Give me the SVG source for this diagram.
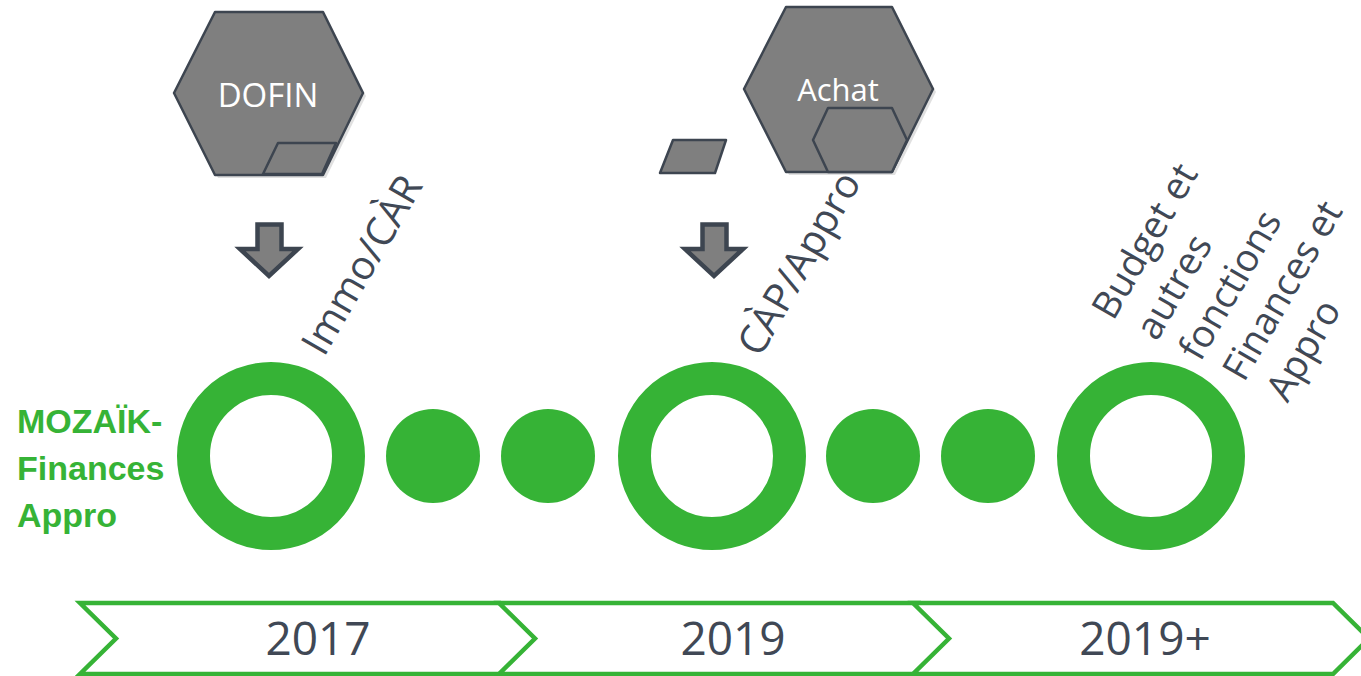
<svg xmlns="http://www.w3.org/2000/svg" width="1361" height="676" viewBox="0 0 1361 676">
<defs>
<style>
.hex{fill:#7f7f7f;stroke:#3d4550;stroke-width:2.5;stroke-linejoin:round}
.shadow{fill:#000;opacity:0.12}
.arrow{fill:#7f7f7f;stroke:#3d4550;stroke-width:4.5;stroke-linejoin:miter}
.ring{fill:none;stroke:#36b336;stroke-width:33}
.dot{fill:#36b336}
.chev{fill:#fff;stroke:#36b336;stroke-width:4.5;stroke-linejoin:miter}
.hl{font-family:"Open Sans","Liberation Sans",sans-serif;fill:#fff;text-anchor:middle}
.diag{font-family:"Open Sans","Liberation Sans",sans-serif;font-size:40px;fill:#404855}
.blk{font-family:"Open Sans","Liberation Sans",sans-serif;font-size:38px;fill:#404855}
.year{font-family:"Open Sans","Liberation Sans",sans-serif;font-size:46px;fill:#404855;text-anchor:middle}
.title{font-family:"Liberation Sans","Open Sans",sans-serif;font-weight:bold;font-size:34px;fill:#36b336}
</style>
</defs>
<rect width="1361" height="676" fill="#fff"/>

<g id="dofin">
<polygon class="shadow" points="218,15 326,15 366,96 326,178 218,178 177,96"/>
<polygon class="hex" points="215,12 323,12 363,93 323,175 215,175 174,93"/>
<polygon class="hex" points="278,143 336,143 322,174 263,174"/>
<text class="hl" x="268" y="107" font-size="33">DOFIN</text>
</g>

<g id="achat">
<polygon class="shadow" points="789,10 895,10 936,92 895,175 789,175 747,92"/>
<polygon class="hex" points="786,7 892,7 933,89 892,172 786,172 744,89"/>
<polygon class="hex" points="813,140 828,108 892,108 907,140 892,172 828,172"/>
<text class="hl" x="838" y="101" font-size="31">Achat</text>
</g>

<g id="para">
<polygon class="hex" points="673,140 726,140 715,173 660,173"/>
</g>

<g id="connectors">
<polygon class="arrow" points="257.5,224.5 281.5,224.5 281.5,249 298,249 269,276 240,249 257.5,249"/>
<polygon class="arrow" points="702.5,224.5 726.5,224.5 726.5,249 743,249 714,276 685,249 702.5,249"/>
</g>

<g id="label-immo">
<text class="diag" transform="translate(324,358) rotate(-60)">Immo/CÀR</text>
</g>
<g id="label-cap">
<text class="diag" transform="translate(760,358.5) rotate(-60)">CÀP/Appro</text>
</g>
<g id="label-budget" transform="translate(1105.5,323) rotate(-60)">
<text class="blk" x="5" y="6">Budget et</text>
<text class="blk" x="9" y="54">autres</text>
<text class="blk" x="13" y="102">fonctions</text>
<text class="blk" x="17" y="150">Finances et</text>
<text class="blk" x="21" y="198">Appro</text>
</g>

<g id="title">
<text class="title" x="17" y="433">MOZAÏK-</text>
<text class="title" x="17" y="480">Finances</text>
<text class="title" x="17" y="527">Appro</text>
</g>

<g id="milestone-2017"><circle class="ring" cx="271" cy="456" r="77.5"/></g>
<g id="dot-1"><circle class="dot" cx="433" cy="456" r="47"/></g>
<g id="dot-2"><circle class="dot" cx="548" cy="456" r="47"/></g>
<g id="milestone-2019"><circle class="ring" cx="712" cy="456" r="77.5"/></g>
<g id="dot-3"><circle class="dot" cx="873" cy="456" r="47"/></g>
<g id="dot-4"><circle class="dot" cx="988" cy="456" r="47"/></g>
<g id="milestone-2019plus"><circle class="ring" cx="1151" cy="456" r="77.5"/></g>

<g id="chevron-2017">
<polygon class="chev" points="80,603 500,603 536,638.5 500,674 80,674 116,638.5"/>
<text class="year" x="318" y="655">2017</text>
</g>
<g id="chevron-2019">
<polygon class="chev" points="499,603 920,603 956,638.5 920,674 499,674 535,638.5"/>
<text class="year" x="733" y="655">2019</text>
</g>
<g id="chevron-2019plus">
<polygon class="chev" points="913,603 1333,603 1369,638.5 1333,674 913,674 949,638.5"/>
<text class="year" x="1145" y="655">2019+</text>
</g>
</svg>
